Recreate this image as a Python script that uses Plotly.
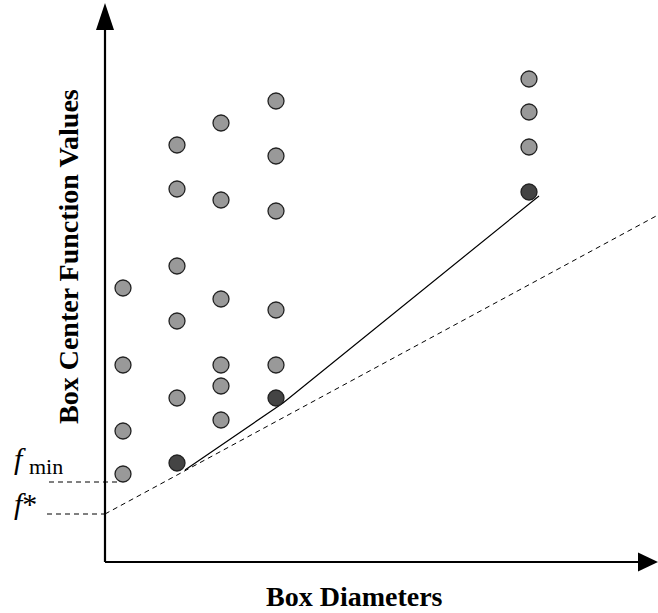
import plotly.graph_objects as go

# ---- data (abstract units: box diameter vs. box-centre function value) ----
gray_x = [1.8, 1.8, 1.8, 1.8,
          7.2, 7.2, 7.2, 7.2, 7.2,
          11.6, 11.6, 11.6, 11.6, 11.6, 11.6,
          17.1, 17.1, 17.1, 17.1, 17.1,
          42.4, 42.4, 42.4]
gray_y = [27.4, 19.7, 13.1, 8.8,
          41.7, 37.3, 29.6, 24.1, 16.4,
          43.9, 36.2, 26.3, 19.7, 17.6, 14.2,
          46.1, 40.6, 35.1, 25.2, 19.7,
          48.3, 45.0, 41.5]
opt_x = [7.2, 17.1, 42.4]
opt_y = [9.9, 16.4, 37.0]
hull_x = [8.0, 17.8, 43.4]
hull_y = [9.2, 15.9, 36.6]
bound_x = [0.0, 55.3]
bound_y = [4.8, 34.7]
fmin_x = [-5.6, 1.2]
fmin_y = [8.0, 8.0]
fstar_x = [-5.8, 0.0]
fstar_y = [4.8, 4.8]

X_RANGE = [-10.5, 55.3]
Y_RANGE = [-5.1, 56.2]

FONT = "Liberation Serif, Times New Roman, serif"

fig = go.Figure()

dash_style = dict(color="black", width=1, dash="5px,4px")
fig.add_trace(go.Scatter(x=bound_x, y=bound_y, mode="lines", line=dash_style,
                         hoverinfo="skip", showlegend=False))
fig.add_trace(go.Scatter(x=fmin_x, y=fmin_y, mode="lines", line=dash_style,
                         hoverinfo="skip", showlegend=False))
fig.add_trace(go.Scatter(x=fstar_x, y=fstar_y, mode="lines", line=dash_style,
                         hoverinfo="skip", showlegend=False))
fig.add_trace(go.Scatter(x=hull_x, y=hull_y, mode="lines",
                         line=dict(color="black", width=1.2),
                         hoverinfo="skip", showlegend=False))
fig.add_trace(go.Scatter(x=gray_x, y=gray_y, mode="markers",
                         marker=dict(size=16, color="#999999",
                                     line=dict(color="#222222", width=1.3)),
                         showlegend=False))
fig.add_trace(go.Scatter(x=opt_x, y=opt_y, mode="markers",
                         marker=dict(size=16, color="#444444",
                                     line=dict(color="#222222", width=1.3)),
                         showlegend=False))

shapes = [
    dict(type="line", x0=0, y0=0, x1=0, y1=53.4, xref="x", yref="y",
         line=dict(color="black", width=2.2)),
    dict(type="line", x0=0, y0=0, x1=53.5, y1=0, xref="x", yref="y",
         line=dict(color="black", width=2.2)),
    dict(type="path", path="M 0 55.9 L -0.9 53.2 L 0.9 53.2 Z",
         xref="x", yref="y", fillcolor="black", line=dict(width=0)),
    dict(type="path", path="M 55.3 0 L 53.3 0.95 L 53.3 -0.95 Z",
         xref="x", yref="y", fillcolor="black", line=dict(width=0)),
]

annotations = [
    dict(x=-3.65, y=30.55, text="<b>Box Center Function Values</b>",
         textangle=-90, showarrow=False, xanchor="center", yanchor="middle",
         font=dict(family=FONT, size=28, color="black")),
    dict(x=24.9, y=-3.45, text="<b>Box Diameters</b>",
         showarrow=False, xanchor="center", yanchor="middle",
         font=dict(family=FONT, size=28, color="black")),
    dict(x=-9.3, y=10.4, text="<i>f</i>", showarrow=False,
         xanchor="left", yanchor="middle",
         font=dict(family=FONT, size=30, color="black")),
    dict(x=-7.8, y=9.6, text="min", showarrow=False,
         xanchor="left", yanchor="middle",
         font=dict(family=FONT, size=22, color="black")),
    dict(x=-9.3, y=5.9, text="<i>f</i>*", showarrow=False,
         xanchor="left", yanchor="middle",
         font=dict(family=FONT, size=30, color="black")),
]

fig.update_layout(
    width=658, height=613,
    margin=dict(l=0, r=0, t=0, b=0),
    paper_bgcolor="white", plot_bgcolor="white",
    xaxis=dict(range=X_RANGE, visible=False, fixedrange=True),
    yaxis=dict(range=Y_RANGE, visible=False, fixedrange=True),
    shapes=shapes, annotations=annotations,
    showlegend=False,
)

fig.write_html("out.html")
